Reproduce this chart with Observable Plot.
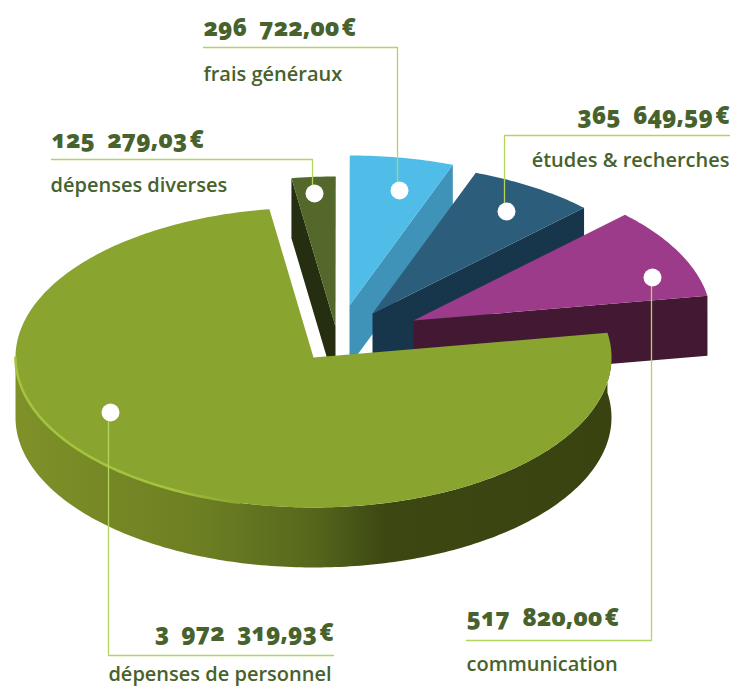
<!DOCTYPE html>
<html lang="fr">
<head>
<meta charset="utf-8">
<title>Répartition des dépenses</title>
<script src="https://cdn.jsdelivr.net/npm/d3@7"></script>
<script src="https://cdn.jsdelivr.net/npm/@observablehq/plot@0.6"></script>
<style>
  html, body { margin: 0; padding: 0; background: #fff; }
  svg { display: block; }
</style>
</head>
<body>
<div id="chart"></div>
<script>
const categories = ["dépenses diverses", "frais généraux", "études & recherches", "communication", "dépenses de personnel"];
const amounts = [125279.03, 296722.00, 365649.59, 517820.00, 3972319.93];
const topColors = ["#53682a", "#4fbde8", "#2c5e7c", "#9c3b8a", "#8aa430"];
const sideColors = ["#252e10", "#3f93b8", "#17364c", "#421832", "url(#wall)"];

const W = 732, H = 686;
const rx = 298, ry = 150, depth = 60;
const apexes = [[335, 326], [349, 305], [372, 313], [413, 320], [313, 357]];
const startAngle = -8.5 * Math.PI / 180;

const euro = d3.formatLocale({decimal: ",", thousands: "\u2002", grouping: [3], currency: ["", " €"]}).format(",.2f");
const slices = d3.pie().sort(null).startAngle(startAngle).endAngle(startAngle + 2 * Math.PI)(amounts);

function arcPoints(i, a0, a1) {
  const [cx, cy] = apexes[i];
  const n = Math.max(2, Math.ceil(Math.abs(a1 - a0) * 60));
  return d3.range(n + 1).map(k => {
    const a = a0 + (a1 - a0) * k / n;
    return [cx + rx * Math.sin(a), cy - ry * Math.cos(a)];
  });
}
const shift = pts => pts.map(([x, y]) => [x, y + depth]);
const poly = (pts, fill) => Plot.line(pts, {x: d => d[0], y: d => d[1], fill, stroke: "none", curve: "linear"});

const pieMarks = [];
slices.forEach((s, i) => {
  const apex = apexes[i];
  const arc = arcPoints(i, s.startAngle, s.endAngle);
  if (i < 4) {
    const face = i === 0 ? arc[0] : arc[arc.length - 1];
    pieMarks.push(poly([face, apex, [apex[0], apex[1] + depth], [face[0], face[1] + depth]], sideColors[i]));
  } else {
    const wall = arcPoints(i, s.startAngle, 3 * Math.PI / 2);
    pieMarks.push(poly([...wall, ...shift(wall).reverse()], sideColors[i]));
  }
  pieMarks.push(poly([apex, ...arc], topColors[i]));
  if (i === 4) {
    const rim = arcPoints(i, 1.08 * Math.PI, 1.5 * Math.PI);
    pieMarks.push(Plot.line(rim, {x: d => d[0], y: d => d[1], stroke: "url(#rim)", strokeWidth: 2.6}));
  }
});

// leader layout: slice index, elbow path, dot, text anchors
const leaders = [
  {i: 1, path: [[203, 47], [397, 47], [397, 190]], dot: [399, 190], valueAt: [203, 28, "start"], nameAt: [203, 74, "start"]},
  {i: 0, path: [[51, 159], [312, 159], [312, 193]], dot: [314, 193], valueAt: [51, 140, "start"], nameAt: [50, 185, "start"]},
  {i: 2, path: [[729, 135], [504, 135], [504, 211]], dot: [506, 211], valueAt: [729, 116, "end"], nameAt: [729, 160, "end"]},
  {i: 3, path: [[466, 640], [651, 640], [651, 277]], dot: [652, 277], valueAt: [466, 618, "start"], nameAt: [466, 664, "start"]},
  {i: 4, path: [[333, 655], [108, 655], [108, 412]], dot: [110, 412], valueAt: [333, 633, "end"], nameAt: [331, 674, "end"]}
];

const defs = () => {
  const d = d3.create("svg:defs");
  const wall = d.append("linearGradient").attr("id", "wall").attr("gradientUnits", "userSpaceOnUse")
    .attr("x1", 14).attr("x2", 612).attr("y1", 0).attr("y2", 0);
  [[0, "#7f9128"], [0.32, "#6c7e22"], [0.5, "#56671c"], [0.62, "#3c4712"], [1, "#384310"]]
    .forEach(([o, c]) => wall.append("stop").attr("offset", o).attr("stop-color", c));
  const rim = d.append("linearGradient").attr("id", "rim").attr("gradientUnits", "userSpaceOnUse")
    .attr("x1", 14).attr("x2", 240).attr("y1", 0).attr("y2", 0);
  [[0, "#a4c33e"], [0.7, "#a4c33e"], [1, "#8aa430"]]
    .forEach(([o, c]) => rim.append("stop").attr("offset", o).attr("stop-color", c));
  return d.node();
};

const textFont = "'Open Sans', sans-serif";
const chart = Plot.plot({
  width: W, height: H, margin: 0,
  x: {domain: [0, W], range: [0, W], axis: null},
  y: {domain: [0, H], range: [0, H], axis: null},
  style: {background: "#fff", fontFeatureSettings: "'onum'"},
  marks: [
    defs,
    ...pieMarks,
    ...leaders.map(l => Plot.line(l.path, {x: d => d[0], y: d => d[1], stroke: "#b4d45f", strokeWidth: 1.3})),
    Plot.dot(leaders, {x: l => l.dot[0], y: l => l.dot[1], r: 9, fill: "#fff", stroke: "none"}),
    ...["start", "end"].map(anchor => Plot.text(leaders.filter(l => l.valueAt[2] === anchor), {
      x: l => l.valueAt[0], y: l => l.valueAt[1],
      text: l => euro(amounts[l.i]) + "\u200a€", textAnchor: anchor, lineAnchor: "middle",
      fontFamily: textFont, fontWeight: 800, fontSize: 24, fill: "#47622c"
    })),
    ...["start", "end"].map(anchor => Plot.text(leaders.filter(l => l.nameAt[2] === anchor), {
      x: l => l.nameAt[0], y: l => l.nameAt[1],
      text: l => categories[l.i], textAnchor: anchor, lineAnchor: "middle",
      fontFamily: textFont, fontWeight: 600, fontSize: 20, fill: "#47622c"
    }))
  ]
});
document.getElementById("chart").append(chart);
</script>
</body>
</html>
